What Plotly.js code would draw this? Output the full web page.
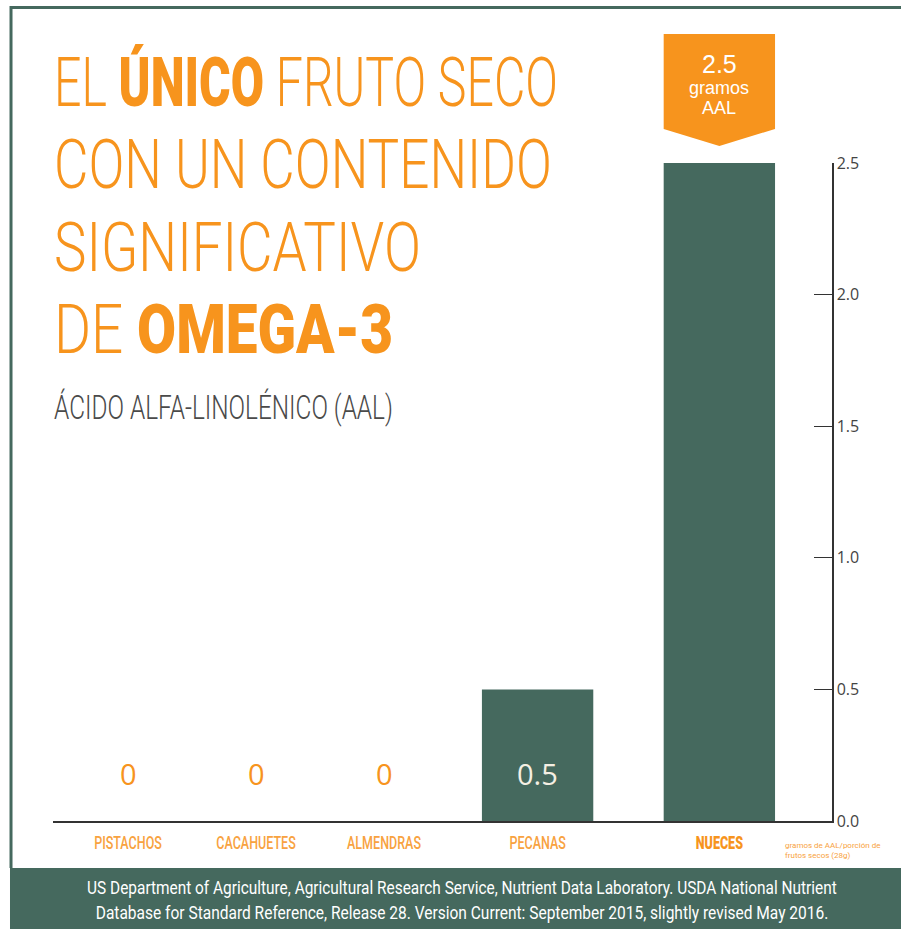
<!DOCTYPE html>
<html>
<head>
<meta charset="utf-8">
<script src="https://cdn.plot.ly/plotly-3.0.1.min.js"></script>
<style>
  html, body { margin: 0; padding: 0; background: #ffffff; }
  #chart { width: 901px; height: 929px; }
</style>
</head>
<body>
<div id="chart"></div>
<script>
// ---- data ----
const categories = ['PISTACHOS', 'CACAHUETES', 'ALMENDRAS', 'PECANAS', 'NUECES'];
const aalGrams = [0, 0, 0, 0.5, 2.5];
const yTickValues = [0, 0.5, 1.0, 1.5, 2.0, 2.5];
const unitLabel = ['gramos', 'AAL'];
const axisNote = ['gramos de AAL/porción de', 'frutos secos (28g)'];
const titleLines = ['EL <span style="font-weight:900">ÚNICO</span> FRUTO SECO', 'CON UN CONTENIDO', 'SIGNIFICATIVO', 'DE <span style="font-weight:900">OMEGA-3</span>'];
const subtitle = 'ÁCIDO ALFA-LINOLÉNICO (AAL)';
const sourceLines = [
  'US Department of Agriculture, Agricultural Research Service, Nutrient Data Laboratory. USDA National Nutrient',
  'Database for Standard Reference, Release 28. Version Current: September 2015, slightly revised May 2016.'
];

// ---- layout / style (not data) ----
const slotPos = [0, 1, 2, 3.2, 4.62];
const barWidth = 0.87;
const ORANGE = '#F7941D';
const ORANGE_LT = '#F8A240';
const GREEN = '#45695E';
const CREAM = '#F4EFE3';
const TALL = 'Roboto, "Noto Sans", sans-serif';
const ROUND = '"Open Sans", "Noto Sans", sans-serif';
const COMPACT = '"Liberation Sans", Arial, sans-serif';
const titleY = [1.1216, 0.9970, 0.8723, 0.7477];
const titleWidths = [504, 498, 367, 339];
const subtitleWidth = 339;
const footerWidths = [750, 733];
const xLabelScale = 0.66;

const maxVal = Math.max(...aalGrams);
const maxIdx = aalGrams.indexOf(maxVal);

const bars = {
  type: 'bar',
  x: slotPos,
  y: aalGrams,
  width: barWidth,
  marker: { color: GREEN, line: { width: 0 } },
  hoverinfo: 'skip',
  showlegend: false
};

const annotations = [];
const squeezeList = []; // [annotation index, target width, anchor]
function addNote(a) { annotations.push(Object.assign({ showarrow: false, borderpad: 0 }, a)); }

titleLines.forEach((t, i) => {
  squeezeList.push([annotations.length, titleWidths[i], 'left']);
  addNote({
    xref: 'paper', yref: 'paper', x: 0, y: titleY[i], xanchor: 'left', yanchor: 'middle',
    text: t, align: 'left',
    font: { family: TALL, size: 69, color: ORANGE, weight: 300 }
  });
});
squeezeList.push([annotations.length, subtitleWidth, 'left']);
addNote({
  xref: 'paper', yref: 'paper', x: 0, y: 0.6277, xanchor: 'left', yanchor: 'middle',
  text: subtitle,
  font: { family: TALL, size: 33, color: '#4A4A4A', weight: 300 }
});
// value labels
aalGrams.forEach((v, i) => {
  if (i === maxIdx) return;
  addNote({
    xref: 'x', yref: 'y', x: slotPos[i], y: 0.18, xanchor: 'center', yanchor: 'middle',
    text: String(v),
    font: { family: ROUND, size: 29, color: v > 0 ? CREAM : ORANGE }
  });
});
// badge texts
addNote({
  xref: 'x', yref: 'paper', x: slotPos[maxIdx], y: 1.1505, xanchor: 'center', yanchor: 'middle',
  text: maxVal.toFixed(1), font: { family: COMPACT, size: 25, color: '#FFFFFF' }
});
addNote({
  xref: 'x', yref: 'paper', x: slotPos[maxIdx], y: 1.1140, xanchor: 'center', yanchor: 'middle',
  text: unitLabel[0], font: { family: COMPACT, size: 18, color: '#FFFFFF' }
});
addNote({
  xref: 'x', yref: 'paper', x: slotPos[maxIdx], y: 1.0836, xanchor: 'center', yanchor: 'middle',
  text: unitLabel[1], font: { family: COMPACT, size: 18, color: '#FFFFFF' }
});
// axis note
addNote({
  xref: 'paper', yref: 'paper', x: 0.9384, y: -0.0441, xanchor: 'left', yanchor: 'middle',
  text: axisNote.join('<br>'), align: 'left',
  font: { family: TALL, size: 8, color: ORANGE_LT }
});
// source footer
const footerY = [-0.1018, -0.1398];
sourceLines.forEach((s, i) => {
  squeezeList.push([annotations.length, footerWidths[i], 'center']);
  addNote({
    xref: 'paper', yref: 'paper', x: 0.525, y: footerY[i], xanchor: 'center', yanchor: 'middle',
    text: s, font: { family: TALL, size: 18, color: '#FFFFFF' }
  });
});

const bx0 = slotPos[maxIdx] - barWidth / 2;
const bx1 = slotPos[maxIdx] + barWidth / 2;
const bxc = slotPos[maxIdx];
const shapes = [
  {
    type: 'path', xref: 'x', yref: 'paper',
    path: `M ${bx0},1.196 L ${bx1},1.196 L ${bx1},1.0517 L ${bxc},1.0258 L ${bx0},1.0517 Z`,
    fillcolor: ORANGE, line: { width: 0 }
  },
  {
    type: 'rect', xref: 'paper', yref: 'paper', x0: -0.0552, x1: 1.1, y0: -0.0714, y1: -0.17,
    fillcolor: GREEN, line: { width: 0 }
  },
  {
    type: 'line', xref: 'paper', yref: 'paper', x0: -0.0552, x1: 1.1, y0: 1.2363, y1: 1.2363,
    line: { color: GREEN, width: 3 }
  },
  {
    type: 'line', xref: 'paper', yref: 'paper', x0: -0.0539, x1: -0.0539, y0: 1.2385, y1: -0.0714,
    line: { color: GREEN, width: 3 }
  }
];

const tickText = categories.map((c, i) => i === maxIdx
  ? `<span style="font-weight:900;color:${ORANGE}">${c}</span>` : c);

const layout = {
  width: 901, height: 929,
  margin: { l: 53, r: 69, t: 163, b: 108 },
  paper_bgcolor: '#FFFFFF', plot_bgcolor: '#FFFFFF',
  showlegend: false,
  xaxis: {
    type: 'linear', range: [-0.586, 5.5], fixedrange: true,
    tickvals: slotPos, ticktext: tickText, ticks: '',
    tickfont: { family: TALL, size: 19, color: ORANGE_LT, weight: 500 },
    showline: true, linecolor: '#333333', linewidth: 1.5,
    showgrid: false, zeroline: false, ticklabelstandoff: 4
  },
  yaxis: {
    side: 'right', range: [0, 2.5], fixedrange: true,
    tickvals: yTickValues, ticktext: yTickValues.map(v => v.toFixed(1)),
    ticks: 'inside', ticklen: 18, tickcolor: '#333333', tickwidth: 1.2,
    tickfont: { family: ROUND, size: 16, color: '#444444' },
    showline: true, linecolor: '#333333', linewidth: 1.5,
    showgrid: false, zeroline: false
  },
  annotations: annotations,
  shapes: shapes
};

// horizontal condensing about an anchor point, in the element's own coordinates
function squeeze(el, scale, anchor, bb) {
  bb = bb || el.getBBox();
  if (!bb.width) return;
  const ox = anchor === 'left' ? bb.x : bb.x + bb.width / 2;
  const oy = bb.y + bb.height / 2;
  const ex = el.getAttribute('transform') || '';
  el.setAttribute('transform', `${ex} translate(${ox},${oy}) scale(${scale},1) translate(${-ox},${-oy})`);
}

Plotly.newPlot('chart', [bars], layout, { displayModeBar: false, staticPlot: true }).then(gd => {
  squeezeList.forEach(([idx, w, anchor]) => {
    const txt = gd.querySelector(`g.annotation[data-index="${idx}"] text.annotation-text`);
    if (!txt) return;
    const tb = txt.getBBox();
    const grp = txt.parentNode;          // holds the background box and the text
    const gb = grp.getBBox();
    const bb = { x: anchor === 'left' ? tb.x : gb.x, y: gb.y, width: gb.width, height: gb.height };
    squeeze(grp, w / tb.width, anchor, bb);
  });
  gd.querySelectorAll('g.xtick text').forEach(el => squeeze(el, xLabelScale, 'center'));
});
</script>
</body>
</html>
